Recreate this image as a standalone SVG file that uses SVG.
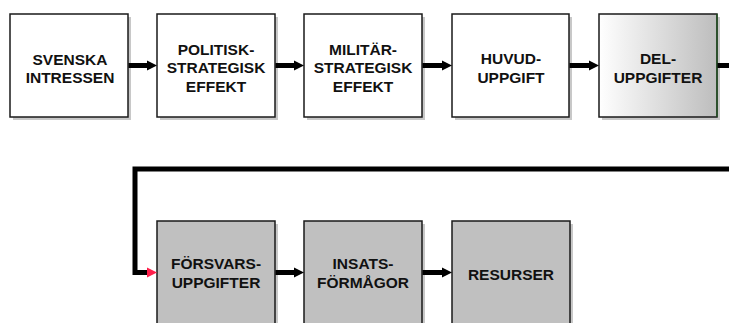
<svg xmlns="http://www.w3.org/2000/svg" width="729" height="323" viewBox="0 0 729 323">
<defs>
<linearGradient id="grad" x1="0" y1="0" x2="1" y2="0">
<stop offset="0" stop-color="#ffffff"/>
<stop offset="1" stop-color="#bdbdbd"/>
</linearGradient>
<path id="ah" d="M-10,-5 L0,0 L-10,5 Z"/>
</defs>
<style>
.sh{fill:#c8c8c8}
.b{stroke:#1a1a1a;stroke-width:1.5}
.w{fill:#ffffff}
.g{fill:#c0c0c0}
.t{font-family:"Liberation Sans",Arial,sans-serif;font-weight:bold;font-size:15.5px;fill:#111;text-anchor:middle}
.c{fill:none;stroke:#000;stroke-width:5}
</style>
<rect width="729" height="323" fill="#fff"/>
<g id="n1"><rect class="sh" x="13" y="17" width="118" height="103"/><rect class="b w" x="10" y="14" width="118" height="103"/><text class="t" x="70" y="65">SVENSKA</text><text class="t" x="70" y="83">INTRESSEN</text></g>
<g id="n2"><rect class="sh" x="160" y="17" width="118" height="103"/><rect class="b w" x="157" y="14" width="118" height="103"/><text class="t" x="216" y="55">POLITISK-</text><text class="t" x="216" y="73">STRATEGISK</text><text class="t" x="216" y="92">EFFEKT</text></g>
<g id="n3"><rect class="sh" x="307" y="17" width="118" height="103"/><rect class="b w" x="304" y="14" width="118" height="103"/><text class="t" x="363" y="55">MILITÄR-</text><text class="t" x="363" y="73">STRATEGISK</text><text class="t" x="363" y="92">EFFEKT</text></g>
<g id="n4"><rect class="sh" x="455" y="17" width="117" height="103"/><rect class="b w" x="452" y="14" width="117" height="103"/><text class="t" x="511" y="64">HUVUD-</text><text class="t" x="511" y="83">UPPGIFT</text></g>
<g id="n5"><rect class="sh" x="602" y="17" width="118" height="103"/><rect x="599" y="14" width="118" height="103" fill="url(#grad)" stroke="#1a1a1a" stroke-width="1.5"/><line x1="717" y1="14" x2="717" y2="117" stroke="#1f5a1f" stroke-width="1.2"/><text class="t" x="658" y="64">DEL-</text><text class="t" x="658" y="83">UPPGIFTER</text></g>
<g id="n6"><rect class="sh" x="160" y="224" width="118" height="110"/><rect class="b g" x="157" y="221" width="118" height="110"/><text class="t" x="216" y="269">FÖRSVARS-</text><text class="t" x="216" y="288">UPPGIFTER</text></g>
<g id="n7"><rect class="sh" x="307" y="224" width="118" height="110"/><rect class="b g" x="304" y="221" width="118" height="110"/><text class="t" x="363" y="269">INSATS-</text><text class="t" x="363" y="288">FÖRMÅGOR</text></g>
<g id="n8"><rect class="sh" x="455" y="224" width="118" height="110"/><rect class="b g" x="452" y="221" width="118" height="110"/><text class="t" x="511" y="280">RESURSER</text></g>
<g id="connectors">
<line class="c" x1="128.5" y1="65.5" x2="148" y2="65.5"/>
<use href="#ah" x="157" y="65.5" fill="#000"/>
<line class="c" x1="275.5" y1="65.5" x2="295" y2="65.5"/>
<use href="#ah" x="304" y="65.5" fill="#000"/>
<line class="c" x1="422.5" y1="65.5" x2="443" y2="65.5"/>
<use href="#ah" x="452" y="65.5" fill="#000"/>
<line class="c" x1="569.5" y1="65.5" x2="590" y2="65.5"/>
<use href="#ah" x="599" y="65.5" fill="#000"/>
<path class="c" d="M717.5,65.5 H740 V169 H135 V272.5 H148"/>
<use href="#ah" x="157" y="272.5" fill="#ff1f4b"/>
<line class="c" x1="275.5" y1="272.5" x2="295" y2="272.5"/>
<use href="#ah" x="304" y="272.5" fill="#000"/>
<line class="c" x1="422.5" y1="272.5" x2="443" y2="272.5"/>
<use href="#ah" x="452" y="272.5" fill="#000"/>
</g>
</svg>
